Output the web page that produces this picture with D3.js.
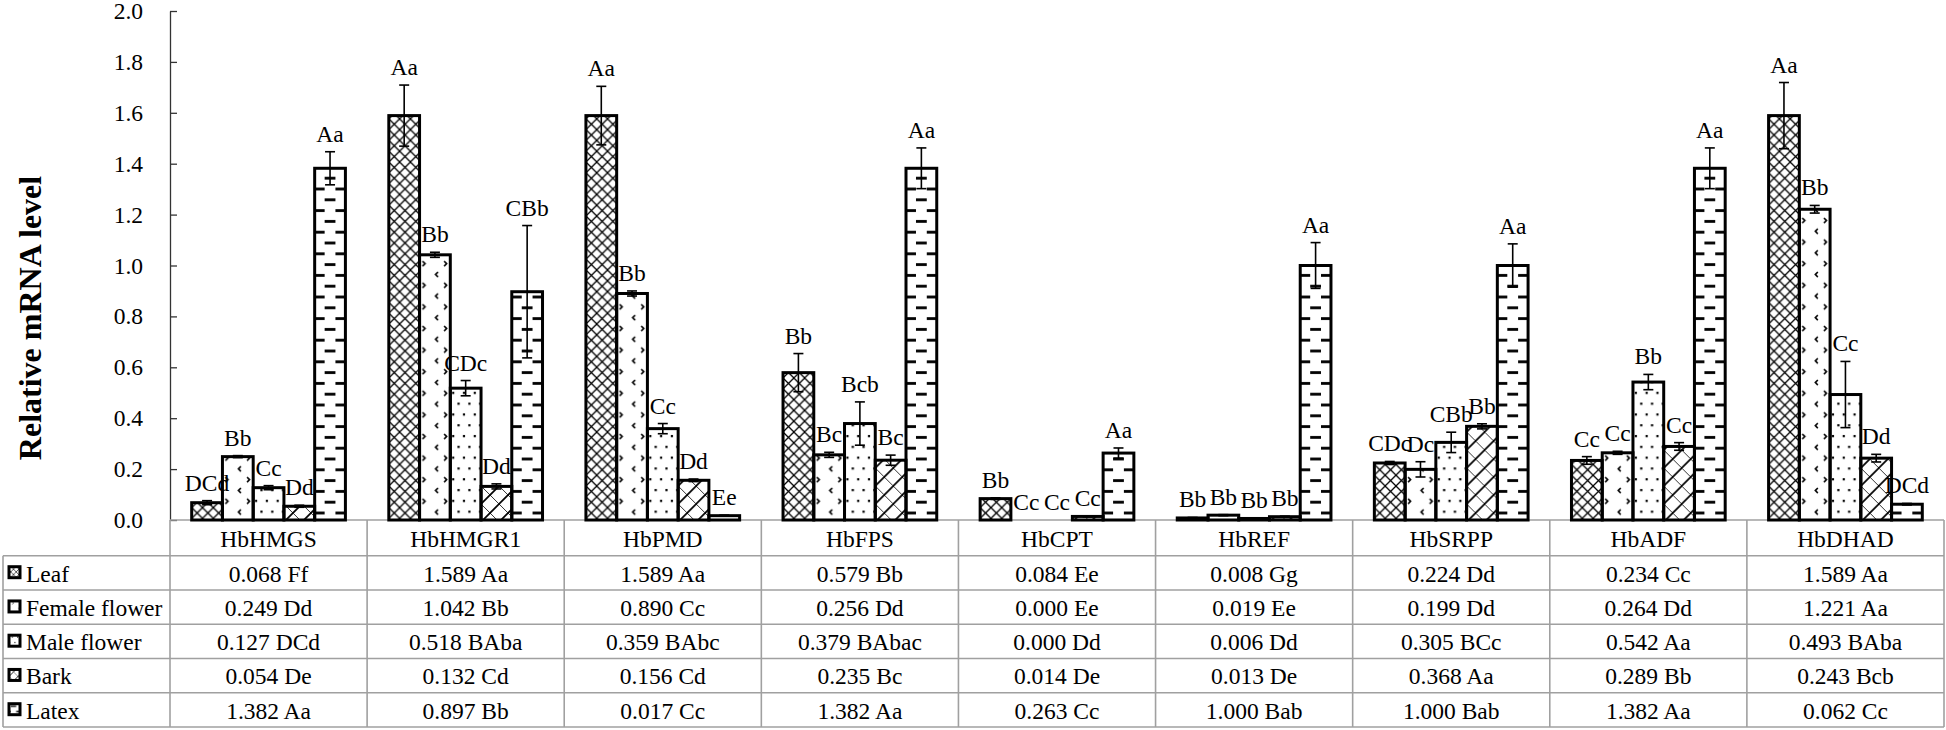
<!DOCTYPE html>
<html>
<head>
<meta charset="utf-8">
<script src="https://cdn.jsdelivr.net/npm/d3@7"></script>
<style>
  html, body { margin: 0; padding: 0; background: #fff; }
  text { font-family: "Liberation Serif", "Times New Roman", serif; fill: #000; }
</style>
</head>
<body>
<div id="chart"></div>
<script>
// genes on the x axis, tissues are the series
const genes = ["HbHMGS", "HbHMGR1", "HbPMD", "HbFPS", "HbCPT", "HbREF", "HbSRPP", "HbADF", "HbDHAD"];
const tissues = ["Leaf", "Female flower", "Male flower", "Bark", "Latex"];

const leaf         = [0.068, 1.589, 1.589, 0.579, 0.084, 0.008, 0.224, 0.234, 1.589];
const femaleFlower = [0.249, 1.042, 0.890, 0.256, 0.000, 0.019, 0.199, 0.264, 1.221];
const maleFlower   = [0.127, 0.518, 0.359, 0.379, 0.000, 0.006, 0.305, 0.542, 0.493];
const bark         = [0.054, 0.132, 0.156, 0.235, 0.014, 0.013, 0.368, 0.289, 0.243];
const latex        = [1.382, 0.897, 0.017, 1.382, 0.263, 1.000, 1.000, 1.382, 0.062];

// error bars
const leafErr   = [0.008, 0.120, 0.115, 0.075, 0.003, 0.002, 0.006, 0.015, 0.130];
const femaleErr = [0.004, 0.010, 0.010, 0.010, 0.000, 0.002, 0.030, 0.006, 0.015];
const maleErr   = [0.008, 0.030, 0.020, 0.085, 0.000, 0.001, 0.040, 0.030, 0.130];
const barkErr   = [0.004, 0.010, 0.005, 0.020, 0.002, 0.002, 0.010, 0.015, 0.015];
const latexErr  = [0.065, 0.260, 0.002, 0.080, 0.020, 0.090, 0.085, 0.080, 0.003];

// letters drawn above the bars
const leafLbl   = ["DCd", "Aa", "Aa", "Bb", "Bb", "Bb", "CDc", "Cc", "Aa"];
const femaleLbl = ["Bb", "Bb", "Bb", "Bc", "Cc", "Bb", "Dc", "Cc", "Bb"];
const maleLbl   = ["Cc", "CDc", "Cc", "Bcb", "Cc", "Bb", "CBb", "Bb", "Cc"];
const barkLbl   = ["Dd", "Dd", "Dd", "Bc", "Cc", "Bb", "Bb", "Cc", "Dd"];
const latexLbl  = ["Aa", "CBb", "Ee", "Aa", "Aa", "Aa", "Aa", "Aa", "DCd"];

// letters in the data table
const leafTbl   = ["Ff", "Aa", "Aa", "Bb", "Ee", "Gg", "Dd", "Cc", "Aa"];
const femaleTbl = ["Dd", "Bb", "Cc", "Dd", "Ee", "Ee", "Dd", "Dd", "Aa"];
const maleTbl   = ["DCd", "BAba", "BAbc", "BAbac", "Dd", "Dd", "BCc", "Aa", "BAba"];
const barkTbl   = ["De", "Cd", "Cd", "Bc", "De", "De", "Aa", "Bb", "Bcb"];
const latexTbl  = ["Aa", "Bb", "Cc", "Aa", "Cc", "Bab", "Bab", "Aa", "Cc"];

const yTicks = [0, 0.2, 0.4, 0.6, 0.8, 1.0, 1.2, 1.4, 1.6, 1.8, 2.0];

const values = [leaf, femaleFlower, maleFlower, bark, latex];
const errors = [leafErr, femaleErr, maleErr, barkErr, latexErr];
const labels = [leafLbl, femaleLbl, maleLbl, barkLbl, latexLbl];
const tableLetters = [leafTbl, femaleTbl, maleTbl, barkTbl, latexTbl];

const chartW = 1946, chartH = 730;
const plotLeft = 170, plotRight = 1944, plotTop = 11, plotBase = 520;
const headerH = 35.7, rowH = 34.25, tableLeft = 3;
const gridColor = "#a0a0a0";
const fontSize = 23.5;

const svg = d3.select("#chart").append("svg")
  .attr("width", chartW)
  .attr("height", chartH);

const defs = svg.append("defs");

/* Scales */
const x0 = d3.scaleBand().domain(genes).range([plotLeft, plotRight]);
const x1 = d3.scaleBand().domain(tissues).range([21.7, x0.bandwidth() - 21.7]);
const y = d3.scaleLinear().domain([0, 2]).range([plotBase, plotTop]);

const bars = [];
tissues.forEach((t, si) => {
  genes.forEach((g, gi) => {
    bars.push({ si, gi, t, g, v: values[si][gi], e: errors[si][gi], lbl: labels[si][gi] });
  });
});
const bx = d => x0(d.g) + x1(d.t);
const bw = x1.bandwidth();

/* Fill patterns, one per series */
function drawPattern(p, si) {
  if (si === 0) {
    p.attr("width", 10.8).attr("height", 10.8);
    p.append("path").attr("d", "M0,0L10.8,10.8M10.8,0L0,10.8")
      .attr("stroke", "#000").attr("stroke-width", 1.3);
  } else if (si === 1) {
    p.attr("width", 21.6).attr("height", 21.6);
    p.append("path").attr("d", "M3,2L5.5,4.5L3,7M18.5,12.8L16,15.3L18.5,17.8")
      .attr("fill", "none").attr("stroke", "#000").attr("stroke-width", 1.6);
  } else if (si === 2) {
    p.attr("width", 10.8).attr("height", 21.6);
    p.append("rect").attr("x", 1.8).attr("y", 3).attr("width", 2.2).attr("height", 2.2).attr("fill", "#000");
    p.append("rect").attr("x", 7.2).attr("y", 13.8).attr("width", 2.2).attr("height", 2.2).attr("fill", "#000");
  } else if (si === 3) {
    p.attr("width", 18).attr("height", 18);
    p.append("path").attr("d", "M0,18L18,0M-2,2L2,-2M16,20L20,16")
      .attr("stroke", "#000").attr("stroke-width", 1.7);
    p.append("path").attr("d", "M0,0L18,18")
      .attr("stroke", "#000").attr("stroke-width", 0.8);
  } else {
    p.attr("width", 21.6).attr("height", 21.6);
    p.append("rect").attr("x", 0).attr("y", 4).attr("width", 10.8).attr("height", 2.8).attr("fill", "#000");
    p.append("rect").attr("x", 10.8).attr("y", 14.8).attr("width", 10.8).attr("height", 2.8).attr("fill", "#000");
  }
}

defs.selectAll(".barpat")
  .data(bars).enter()
  .append("pattern")
  .attr("class", "barpat")
  .attr("id", d => `p${d.si}_${d.gi}`)
  .attr("patternUnits", "userSpaceOnUse")
  .attr("x", d => d.si === 4 ? bx(d) + bw / 2 - 5.4 : bx(d))
  .attr("y", 0)
  .each(function(d) { drawPattern(d3.select(this), d.si); });

defs.selectAll(".keypat")
  .data(tissues).enter()
  .append("pattern")
  .attr("class", "keypat")
  .attr("id", (d, i) => `k${i}`)
  .attr("patternUnits", "userSpaceOnUse")
  .attr("patternTransform", "scale(0.5)")
  .each(function(d, i) { drawPattern(d3.select(this), i); });

/* Y axis */
const yAxis = d3.axisLeft(y)
  .tickValues(yTicks)
  .tickFormat(d3.format(".1f"))
  .tickSizeInner(-7)
  .tickSizeOuter(0)
  .tickPadding(27);

const gy = svg.append("g")
  .attr("transform", `translate(${plotLeft},0)`)
  .call(yAxis);
gy.select(".domain").attr("stroke", "#333").attr("stroke-width", 1.3);
gy.selectAll(".tick line").attr("stroke", "#333").attr("stroke-width", 1.3);
gy.selectAll(".tick text")
  .attr("font-size", fontSize)
  .attr("font-family", "'Liberation Serif', 'Times New Roman', serif")
  .attr("fill", "#000");

svg.append("text")
  .attr("transform", `translate(41,318) rotate(-90)`)
  .attr("text-anchor", "middle")
  .attr("font-size", 32)
  .attr("font-weight", "bold")
  .text("Relative mRNA level");

/* Data table */
const table = svg.append("g");
const rowTop = i => plotBase + headerH + i * rowH;

table.append("line")
  .attr("x1", plotLeft).attr("x2", plotRight).attr("y1", plotBase).attr("y2", plotBase)
  .attr("stroke", gridColor).attr("stroke-width", 1.6);
table.selectAll(".hline")
  .data(d3.range(tissues.length + 1)).enter()
  .append("line")
  .attr("x1", tableLeft).attr("x2", plotRight)
  .attr("y1", d => rowTop(d)).attr("y2", d => rowTop(d))
  .attr("stroke", gridColor).attr("stroke-width", 1.6);
table.selectAll(".vline")
  .data(genes.map(g => x0(g)).concat([plotRight])).enter()
  .append("line")
  .attr("x1", d => d).attr("x2", d => d)
  .attr("y1", plotBase).attr("y2", rowTop(tissues.length))
  .attr("stroke", gridColor).attr("stroke-width", 1.6);
table.append("line")
  .attr("x1", tableLeft).attr("x2", tableLeft)
  .attr("y1", rowTop(0)).attr("y2", rowTop(tissues.length))
  .attr("stroke", gridColor).attr("stroke-width", 1.6);

table.selectAll(".gene")
  .data(genes).enter()
  .append("text")
  .attr("x", d => x0(d) + x0.bandwidth() / 2)
  .attr("y", plotBase + 27)
  .attr("text-anchor", "middle")
  .attr("font-size", fontSize)
  .text(d => d);

const rows = table.selectAll(".row")
  .data(tissues).enter()
  .append("g")
  .attr("transform", (d, i) => `translate(0,${rowTop(i)})`);

rows.append("rect")
  .attr("x", 9).attr("y", 11)
  .attr("width", 11).attr("height", 11)
  .attr("fill", (d, i) => `url(#k${i})`)
  .attr("stroke", "#000").attr("stroke-width", 3);

rows.append("text")
  .attr("x", 26).attr("y", 26)
  .attr("font-size", fontSize)
  .text(d => d);

rows.selectAll(".cell")
  .data((d, i) => genes.map((g, gi) => ({ g, txt: values[i][gi].toFixed(3) + " " + tableLetters[i][gi] })))
  .enter()
  .append("text")
  .attr("x", d => x0(d.g) + x0.bandwidth() / 2)
  .attr("y", 26)
  .attr("text-anchor", "middle")
  .attr("font-size", fontSize)
  .text(d => d.txt);

/* Bars */
svg.append("g")
  .selectAll("rect")
  .data(bars).enter()
  .append("rect")
  .attr("x", d => bx(d))
  .attr("width", bw)
  .attr("y", d => y(d.v))
  .attr("height", d => y(0) - y(d.v))
  .attr("fill", d => `url(#p${d.si}_${d.gi})`)
  .attr("stroke", "#000")
  .attr("stroke-width", 3);

/* Error bars */
const err = svg.append("g")
  .selectAll("g")
  .data(bars.filter(d => d.e > 0)).enter()
  .append("g")
  .attr("stroke", "#000")
  .attr("stroke-width", 1.6);
err.append("line")
  .attr("x1", d => bx(d) + bw / 2).attr("x2", d => bx(d) + bw / 2)
  .attr("y1", d => y(d.v - d.e)).attr("y2", d => y(d.v + d.e));
err.append("line")
  .attr("x1", d => bx(d) + bw / 2 - 5).attr("x2", d => bx(d) + bw / 2 + 5)
  .attr("y1", d => y(d.v + d.e)).attr("y2", d => y(d.v + d.e));
err.append("line")
  .attr("x1", d => bx(d) + bw / 2 - 5).attr("x2", d => bx(d) + bw / 2 + 5)
  .attr("y1", d => y(d.v - d.e)).attr("y2", d => y(d.v - d.e));

/* Letters above bars */
svg.append("g")
  .selectAll("text")
  .data(bars).enter()
  .append("text")
  .attr("x", d => bx(d) + bw / 2)
  .attr("y", d => y(d.v + d.e) - 10)
  .attr("text-anchor", "middle")
  .attr("font-size", fontSize)
  .text(d => d.lbl);
</script>
</body>
</html>
